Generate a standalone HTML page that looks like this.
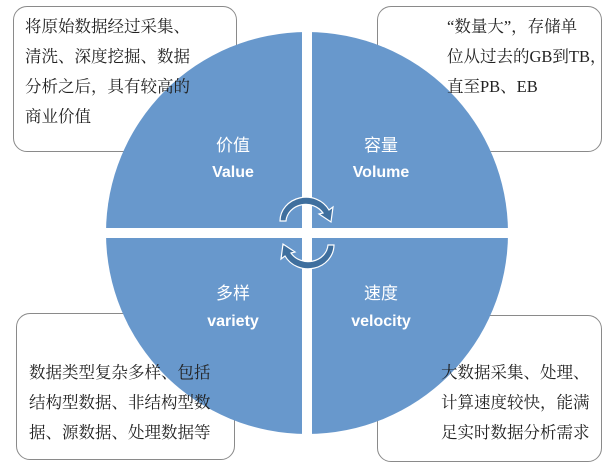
<!DOCTYPE html>
<html><head><meta charset="utf-8"><style>
html,body{margin:0;padding:0;background:#fff;}
body{width:609px;height:466px;position:relative;overflow:hidden;font-family:"Liberation Serif","Noto Serif CJK SC",serif;}
.box{position:absolute;border:1px solid #8a8a8a;border-radius:14px;background:#fff;}
.t{position:absolute;font-size:16.5px;color:#222;white-space:nowrap;line-height:30px;z-index:3;}
.l{position:absolute;color:#fff;font-family:"Liberation Sans","Noto Sans CJK SC",sans-serif;font-size:17px;transform:translateX(-50%);white-space:nowrap;z-index:3;}
.l b{font-size:16px;}
svg{position:absolute;left:0;top:0;z-index:2;}
</style></head><body>
<div class="box" style="left:13px;top:6px;width:222px;height:144px;"></div>
<div class="box" style="left:377px;top:6px;width:223px;height:144px;"></div>
<div class="box" style="left:16px;top:313px;width:217px;height:145px;"></div>
<div class="box" style="left:377px;top:315px;width:223px;height:145px;"></div>
<svg width="609" height="466" viewBox="0 0 609 466">
<defs><clipPath id="c"><ellipse cx="307" cy="233" rx="201" ry="201"/></clipPath></defs>
<g clip-path="url(#c)" fill="#6898cc">
<rect x="100" y="25" width="202" height="203"/>
<rect x="312" y="25" width="202" height="203"/>
<rect x="100" y="238" width="202" height="203"/>
<rect x="312" y="238" width="202" height="203"/>
</g>
<g fill="#3f6f9e" stroke="#ffffff" stroke-width="1.2">
<path d="M280 221 A26 24 0 0 1 329 210 L333 207 L331 222 L319 214 L323 213 A20 18 0 0 0 286 221 Z"/>
<path d="M334 245 A26 24 0 0 1 285 256 L281 259 L283 244 L295 252 L291 253 A20 18 0 0 0 328 245 Z"/>
</g>
</svg>
<div class="t" style="left:25px;top:12px;">将原始数据经过采集、<br>清洗、深度挖掘、数据<br>分析之后，具有较高的<br>商业价值</div>
<div class="t" style="left:447px;top:12px;">“数量大”，存储单<br>位从过去的GB到TB，<br>直至PB、EB</div>
<div class="t" style="left:29px;top:358px;">数据类型复杂多样、包括<br>结构型数据、非结构型数<br>据、源数据、处理数据等</div>
<div class="t" style="left:441px;top:358px;">大数据采集、处理、<br>计算速度较快，能满<br>足实时数据分析需求</div>
<div class="l" style="left:233px;top:131px;">价值</div>
<div class="l" style="left:233px;top:162px;"><b>Value</b></div>
<div class="l" style="left:381px;top:131px;">容量</div>
<div class="l" style="left:381px;top:162px;"><b>Volume</b></div>
<div class="l" style="left:233px;top:279px;">多样</div>
<div class="l" style="left:233px;top:311px;"><b>variety</b></div>
<div class="l" style="left:381px;top:279px;">速度</div>
<div class="l" style="left:381px;top:311px;"><b>velocity</b></div>
</body></html>
